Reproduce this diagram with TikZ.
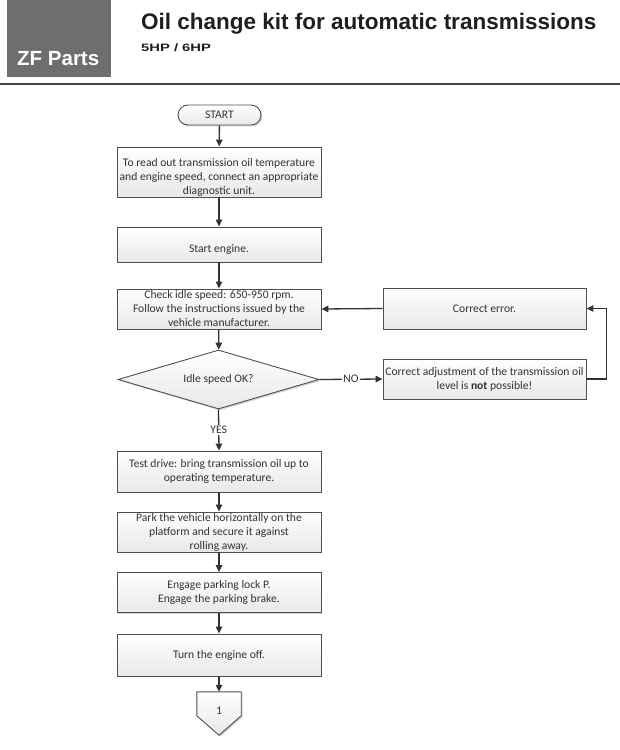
\documentclass[tikz,border=0pt]{standalone}
\usepackage{fontspec}
\setmainfont{Carlito}
\newfontfamily\hdr{Liberation Sans}
\usetikzlibrary{arrows.meta,shapes.geometric,shadows,calc,backgrounds}
\definecolor{ink}{HTML}{333333}
\definecolor{edge}{HTML}{505050}
\definecolor{zfgrey}{HTML}{6E6E6E}
\newcommand{\dn}[2]{\raisebox{-#1}[\height][\depth]{#2}}
\tikzset{
  box/.style={draw=edge, line width=0.9pt, top color=white, bottom color=black!9,
    drop shadow={shadow xshift=1.4pt, shadow yshift=-1.4pt, fill=black!30, opacity=0.6},
    minimum width=204pt, inner sep=0pt, align=center, text=ink,
    font=\fontsize{11.6}{14}\selectfont},
  sbox/.style={box, minimum width=203pt},
  term/.style={box, rounded corners=10pt, minimum width=83pt, minimum height=20pt},
  dec/.style={box, diamond, aspect=3.4, minimum width=201pt, minimum height=59pt},
  flow/.style={draw=ink, line width=1.3pt, -{Triangle[length=7pt,width=6.5pt]}},
  lbl/.style={fill=white, inner sep=1pt, text=ink, font=\fontsize{11.6}{12}\selectfont},
}
\begin{document}
\begin{tikzpicture}[x=1pt,y=-1pt]
\useasboundingbox (0,0) rectangle (620,750);
% header
\fill[zfgrey] (7,0) rectangle (111,77);
\node[anchor=base west, inner sep=0pt, text=white, font=\hdr\bfseries\fontsize{20.5}{22}\selectfont] (zf) at (17,65) {ZF Parts};
\node[anchor=base west, inner sep=0pt, text=black!88, font=\hdr\bfseries\fontsize{22.5}{24}\selectfont] (title) at (141,29) {Oil change kit for automatic transmissions};
\node[anchor=base west, inner sep=0pt, text=black!88, font=\hdr\bfseries\fontsize{10.7}{12}\selectfont] (sub) at (141,51) {\scalebox{1.38}[1]{5HP / 6HP}};
\draw[black!72, line width=2pt] (0,84) -- (620,84);
% flowchart nodes
\node[term] (start) at (219.5,115) {START};
\node[box, minimum height=50pt] (b1) at (219,172) {\dn{6pt}{\begin{tabular}{@{}c@{}}To read out transmission oil temperature\\ and engine speed, connect an appropriate\\ diagnostic unit.\end{tabular}}};
\node[box, minimum height=35pt] (b2) at (219,244.5) {\dn{5pt}{Start engine.}};
\node[box, minimum height=40pt] (b3) at (219,309) {Check idle speed: 650-950 rpm.\\ Follow the instructions issued by the\\ vehicle manufacturer.};
\node[sbox, minimum height=41pt] (err) at (484.5,308.5) {Correct error.};
\node[dec] (dia) at (218.5,379.5) {Idle speed OK?};
\node[sbox, minimum height=40pt] (adj) at (484.5,379) {Correct adjustment of the transmission oil\\ level is \textbf{not} possible!};
\node[box, minimum height=41pt] (td) at (219,471.5) {Test drive: bring transmission oil up to\\ operating temperature.};
\node[box, minimum height=40pt] (park) at (219,532) {Park the vehicle horizontally on the\\ platform and secure it against\\ rolling away.};
\node[box, minimum height=40pt] (eng) at (219,592.5) {Engage parking lock P.\\ Engage the parking brake.};
\node[box, minimum height=42pt] (off) at (219,655) {Turn the engine off.};
\node[inner sep=0pt, minimum width=44pt, minimum height=43pt, text=ink, font=\fontsize{11.6}{12}\selectfont] (con) at (219,713.5) {\raisebox{3pt}[\height][\depth]{1}};
\begin{pgfonlayer}{background}
\path[draw=edge, line width=0.9pt, top color=white, bottom color=black!9,
  drop shadow={shadow xshift=1.4pt, shadow yshift=-1.4pt, fill=black!30, opacity=0.6}]
  (con.north west) -- (con.north east) -- ($(con.north east)+(0,24)$) -- (con.south) -- ($(con.north west)+(0,24)$) -- cycle;
\end{pgfonlayer}
% connectors
\draw[flow] (start) -- (b1);
\draw[flow] (b1) -- (b2);
\draw[flow] (b2) -- (b3);
\draw[flow] (b3) -- (dia);
\draw[flow] (dia.east) -- node[lbl] {NO} (adj.west);
\draw[flow] (adj.east) -- ++(20,0) |- (err.east);
\draw[flow] (err.west) -- (b3.east);
\draw[flow] (dia.south) -- node[lbl] {YES} (td.north);
\draw[flow] (td) -- (park);
\draw[flow] (park) -- (eng);
\draw[flow] (eng) -- (off);
\draw[flow] (off) -- (con.north);
\end{tikzpicture}
\end{document}
